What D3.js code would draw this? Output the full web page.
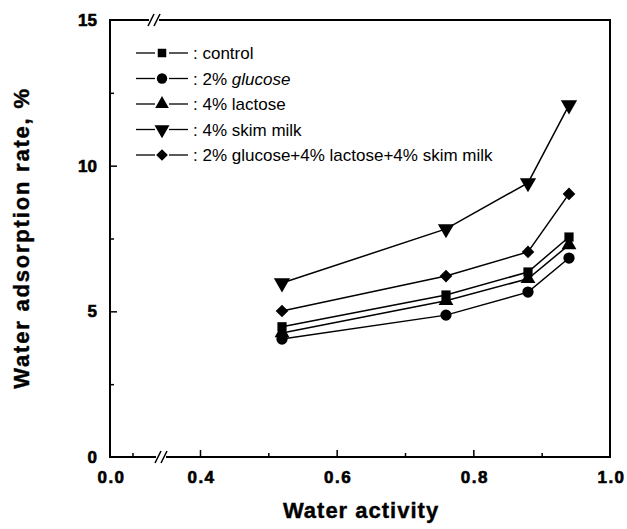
<!DOCTYPE html>
<html><head><meta charset="utf-8">
<script src="https://cdn.jsdelivr.net/npm/d3@7"></script>
<style>body{margin:0;background:#fff}svg{display:block}</style>
</head><body>
<svg id="c" width="627" height="529"></svg>
<script>
const waterActivity = [0.52, 0.76, 0.88, 0.94];
const seriesNames = ["control", "2% glucose", "4% lactose", "4% skim milk", "2% glucose+4% lactose+4% skim milk"];
const control   = [4.47, 5.56, 6.35, 7.55];
const glucose   = [4.05, 4.87, 5.66, 6.83];
const lactose   = [4.26, 5.36, 6.12, 7.28];
const skimMilk  = [5.97, 7.83, 9.41, 12.08];
const mixture   = [5.01, 6.21, 7.04, 9.03];
const xTickLabels = [0.0, 0.4, 0.6, 0.8, 1.0];
const xMinorTicks = [0.1, 0.5, 0.7, 0.9];
const yTickLabels = [0, 5, 10, 15];
const yMinorTicks = [2.5, 7.5, 12.5];

const FONT = "Liberation Sans, Arial, sans-serif";
const svg = d3.select("#c");
const L = 110, R = 610, T = 20, B = 457;
const x = d3.scaleLinear().domain([0, 0.4, 1.0]).range([L, 200, R]);
const y = d3.scaleLinear().domain([0, 15]).range([B, T]);

const series = [
  {name: seriesNames[0], values: control,  sym: d3.symbolSquare,   size: 85, rot: 0},
  {name: seriesNames[1], values: glucose,  sym: d3.symbolCircle,   size: 100, rot: 0},
  {name: seriesNames[2], values: lactose,  sym: d3.symbolTriangle, size: 95, rot: 0},
  {name: seriesNames[3], values: skimMilk, sym: d3.symbolTriangle, size: 115, rot: 180},
  {name: seriesNames[4], values: mixture,  sym: d3.symbolSquare,   size: 80, rot: 45}
];

// frame
svg.append("rect").attr("x", L).attr("y", T).attr("width", R - L).attr("height", B - T)
  .attr("fill", "none").attr("stroke", "#000").attr("stroke-width", 2);

// x axis
const xAxis = d3.axisBottom(x).tickValues([0.4, 0.6, 0.8]).tickSize(-7).tickFormat("");
svg.append("g").attr("transform", `translate(0,${B})`).call(xAxis)
  .call(g => { g.select(".domain").remove(); g.selectAll("line").attr("stroke-width", 1.5); });
const xMinor = d3.axisBottom(x).tickValues(xMinorTicks).tickSize(-4).tickFormat("");
svg.append("g").attr("transform", `translate(0,${B})`).call(xMinor)
  .call(g => { g.select(".domain").remove(); g.selectAll("line").attr("stroke-width", 1.5); });
const xLab = d3.axisBottom(x).tickValues(xTickLabels).tickSize(0).tickPadding(14).tickFormat(d3.format(".1f"));
svg.append("g").attr("transform", `translate(0,${B})`).call(xLab)
  .call(g => { g.select(".domain").remove(); g.selectAll("line").remove();
    g.selectAll("text").attr("font-family", FONT).attr("font-weight", "bold")
      .attr("font-size", 17).attr("letter-spacing", 1.5).attr("dx", 1)
      .attr("fill", "#000").attr("stroke", "#000").attr("stroke-width", 0.6); });

// y axis
const yAxis = d3.axisLeft(y).tickValues([5, 10]).tickSize(-7).tickFormat("");
svg.append("g").attr("transform", `translate(${L},0)`).call(yAxis)
  .call(g => { g.select(".domain").remove(); g.selectAll("line").attr("stroke-width", 1.5); });
const yMinor = d3.axisLeft(y).tickValues(yMinorTicks).tickSize(-4).tickFormat("");
svg.append("g").attr("transform", `translate(${L},0)`).call(yMinor)
  .call(g => { g.select(".domain").remove(); g.selectAll("line").attr("stroke-width", 1.5); });
const yLab = d3.axisLeft(y).tickValues(yTickLabels).tickSize(0).tickPadding(13).tickFormat(d3.format("d"));
svg.append("g").attr("transform", `translate(${L},0)`).call(yLab)
  .call(g => { g.select(".domain").remove(); g.selectAll("line").remove();
    g.selectAll("text").attr("font-family", FONT).attr("font-weight", "bold")
      .attr("font-size", 17).attr("fill", "#000").attr("stroke", "#000").attr("stroke-width", 0.6); });

// axis breaks
function brk(cx, cy) {
  svg.append("rect").attr("x", cx - 5).attr("y", cy - 2).attr("width", 10).attr("height", 4).attr("fill", "#fff");
  [-3, 3].forEach(o => svg.append("line")
    .attr("x1", cx + o - 3).attr("y1", cy + 6).attr("x2", cx + o + 3).attr("y2", cy - 6)
    .attr("stroke", "#000").attr("stroke-width", 1.6));
}
brk(161, B);
brk(154, T);

// axis titles
svg.append("text").attr("x", 361).attr("y", 518).attr("text-anchor", "middle")
  .attr("font-family", FONT).attr("font-weight", "bold")
  .attr("font-size", 22).attr("letter-spacing", 1).attr("stroke", "#000").attr("stroke-width", 0.4)
  .text("Water  activity");
svg.append("text").attr("transform", "translate(29,238) rotate(-90)").attr("text-anchor", "middle")
  .attr("font-family", FONT).attr("font-weight", "bold")
  .attr("font-size", 22).attr("letter-spacing", 1.8).attr("stroke", "#000").attr("stroke-width", 0.4)
  .text("Water adsorption rate, %");

// series
const line = d3.line().x((d, i) => x(waterActivity[i])).y(d => y(d));
series.forEach(s => {
  svg.append("path").datum(s.values).attr("d", line)
    .attr("fill", "none").attr("stroke", "#000").attr("stroke-width", 1.5);
  svg.selectAll(null).data(s.values).enter().append("path")
    .attr("d", d3.symbol().type(s.sym).size(s.size))
    .attr("transform", (d, i) => `translate(${x(waterActivity[i])},${y(d)}) rotate(${s.rot})`)
    .attr("fill", "#000");
});

// legend
const lg = svg.append("g");
series.forEach((s, i) => {
  const ly = 53 + i * 25.5;
  lg.append("line").attr("x1", 136).attr("x2", 155).attr("y1", ly).attr("y2", ly).attr("stroke", "#000").attr("stroke-width", 1.3);
  lg.append("line").attr("x1", 169).attr("x2", 188).attr("y1", ly).attr("y2", ly).attr("stroke", "#000").attr("stroke-width", 1.3);
  lg.append("path").attr("d", d3.symbol().type(s.sym).size(s.size * 0.85))
    .attr("transform", `translate(162,${ly}) rotate(${s.rot})`).attr("fill", "#000");
  const t = lg.append("text").attr("x", 193).attr("y", ly + 6)
    .attr("font-family", FONT).attr("font-size", 17).attr("fill", "#000");
  if (i === 1) {
    t.append("tspan").text(": 2% ");
    t.append("tspan").attr("font-style", "italic").text("glucose");
  } else {
    t.text(": " + s.name);
  }
});
</script>
</body></html>
